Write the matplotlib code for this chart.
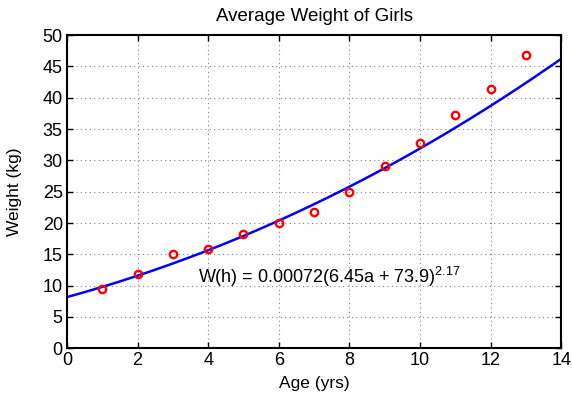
import numpy as np
import matplotlib
matplotlib.use("Agg")
import matplotlib.pyplot as plt

# measured average weights
age = [1, 2, 3, 4, 5, 6, 7, 8, 9, 10, 11, 12, 13]
weight = [9.5, 11.8, 15.0, 15.9, 18.2, 20.0, 21.8, 25.0, 29.1, 32.7, 37.3, 41.4, 46.8]

# fitted model W = k * (m*a + c)^p
k, m, c, p = 0.00072, 6.45, 73.9, 2.17

xticks = [0, 2, 4, 6, 8, 10, 12, 14]
yticks = [0, 5, 10, 15, 20, 25, 30, 35, 40, 45, 50]

plt.rcParams["font.family"] = ["Liberation Sans", "DejaVu Sans"]
plt.rcParams["mathtext.fontset"] = "custom"
plt.rcParams["mathtext.rm"] = "Liberation Sans"

fig = plt.figure(figsize=(5.72, 3.94), dpi=100)
ax = fig.add_axes([0.117, 0.116, 0.864, 0.795])

a_fit = np.linspace(0, 14, 200)
ax.plot(a_fit, k * (m * a_fit + c) ** p, color="#0000ff", linewidth=1.8)
ax.plot(age, weight, linestyle="none", marker="o", markersize=5.3,
        markerfacecolor="none", markeredgecolor="#ff0000", markeredgewidth=1.7)

ax.text(3.7, 11.4, r"W(h) = 0.00072(6.45a + 73.9)$^{\mathregular{2.17}}$",
        fontsize=13, va="center", ha="left")

ax.set_xlim(0, 14)
ax.set_ylim(0, 50)
ax.set_xticks(xticks)
ax.set_yticks(yticks)
ax.tick_params(axis="both", direction="in", top=True, right=True,
               labelsize=13, length=4, width=1, pad=3)
ax.grid(True, linestyle=(0, (1, 3)), color="#808080", linewidth=0.8)
for s in ax.spines.values():
    s.set_linewidth(1.5)

ax.set_title("Average Weight of Girls", fontsize=13.5, pad=10)
ax.set_xlabel("Age (yrs)", fontsize=12.5, labelpad=5)
ax.set_ylabel("Weight (kg)", fontsize=12.5, labelpad=15)

fig.savefig("out.png", dpi=100)
